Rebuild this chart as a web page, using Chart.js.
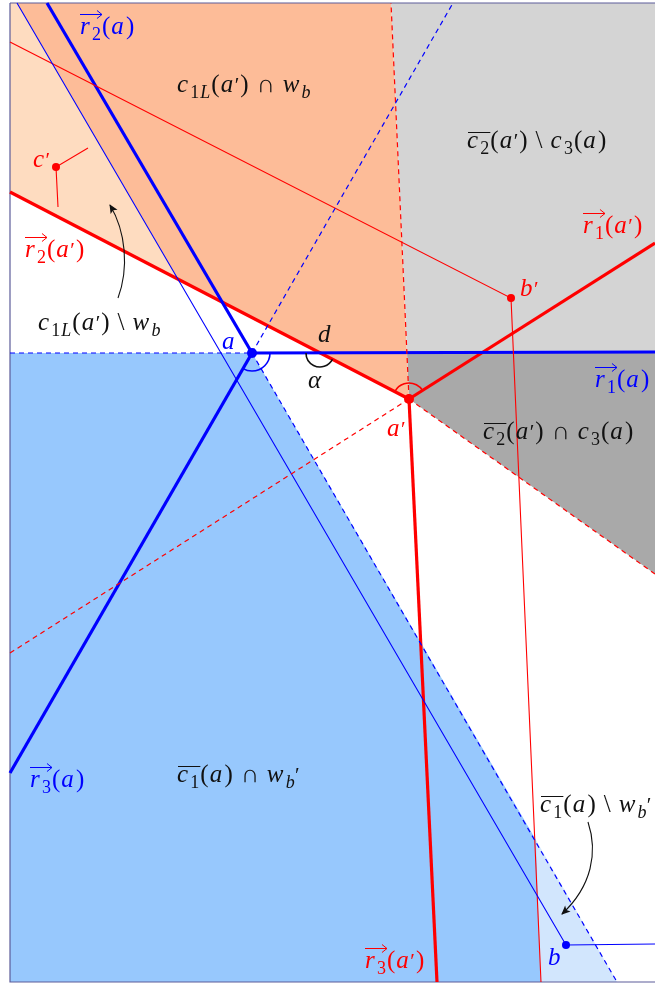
<!DOCTYPE html>
<html>
<head>
<meta charset="utf-8">
<script src="https://cdn.jsdelivr.net/npm/chart.js@4.4.1/dist/chart.umd.min.js"></script>
<style>
html, body { margin: 0; padding: 0; background: #fff; }
#diagram { display: block; }
#fontprobe { position: absolute; left: -999px; top: 0; font: italic 24px 'Liberation Serif'; }
</style>
</head>
<body>
<span id="fontprobe">a (a) <span style="font-style:normal">( )</span></span>
<canvas id="diagram" width="655" height="987"></canvas>
<script>
// points of the figure (x right, y down)
var ptA  = [252, 353];
var ptA2 = [409, 399];
var ptB  = [566, 945];
var ptB2 = [511, 298];
var ptC2 = [56, 167];

// shaded cells
var cellPeach  = [[10,3],[17,3],[178,279],[10,192],[10,3]];
var cellSalmon = [[17,3],[391,3],[409,399],[178,279],[17,3]];
var cellGrey   = [[391,3],[655,3],[655,352],[407,352],[391,3]];
var cellDark   = [[407,352],[655,352],[655,574],[409,399],[407,352]];
var cellBlue   = [[10,353],[252,353],[536,840],[541,982],[10,982],[10,353]];
var cellPale   = [[536,840],[617,982],[541,982],[536,840]];

// rays and segments
var blueThick = [[ptA,[655,352]], [ptA,[47,3]], [ptA,[10,773]]];
var blueDash  = [[[10,353],ptA], [ptA,[453,3]], [ptA,[617,982]]];
var blueThin  = [[[17,3],ptB,[655,944]]];
var redThick  = [[ptA2,[10,192]], [ptA2,[655,243]], [ptA2,[437,982]]];
var redDash   = [[ptA2,[391,3]], [ptA2,[10,653]], [ptA2,[655,574]]];
var redThin   = [[[10,42],ptB2,[541,982]], [[88,148],ptC2,[58,207]]];
var frame     = [[10,3],[660,3],[660,982],[10,982],[10,3]];

// labels: text, x, baseline, colour
var labels = [
  ["<r_2>(a)", 80, 34, "blue"],
  ["c_{1L}(a') ∩ w_b", 177, 92, "#111"],
  ["[c_2](a') \\ c_3(a)", 467, 148, "#111"],
  ["<r_1>(a')", 583, 233, "red"],
  ["c'", 33, 167, "red"],
  ["<r_2>(a')", 25, 257, "red"],
  ["c_{1L}(a') \\ w_b", 38, 330, "#111"],
  ["a", 222, 349, "blue"],
  ["d", 318, 342, "#111"],
  ["α", 308, 388, "#111"],
  ["b'", 520, 296, "red"],
  ["<r_1>(a)", 595, 387, "blue"],
  ["a'", 387, 436, "red"],
  ["[c_2](a') ∩ c_3(a)", 483, 439, "#111"],
  ["<r_3>(a)", 30, 787, "blue"],
  ["[c_1](a) ∩ w_{b'}", 177, 782, "#111"],
  ["[c_1](a) \\ w_{b'}", 540, 812, "#111"],
  ["b", 548, 965, "blue"],
  ["<r_3>(a')", 365, 968, "red"]
];

// angle marks: centre, radius, start deg, end deg, colour
var arcs = [
  [ptA, 18, 0, 120, "blue"],
  [ptA2, 16, -152.6, -32.4, "red"],
  [[320,353], 14, 27.4, 180, "#111"]
];

// curved arrows: start, ctrl1, ctrl2, end
var arrows = [
  [[118,298],[129,268],[126,232],[110,205]],
  [[588,822],[598,852],[592,886],[562,914]]
];

function pts(list) {
  return list.map(function(p) { return {x: p[0], y: p[1]}; });
}

var datasets = [];
function addCell(list, color) {
  datasets.push({ data: pts(list), fill: 'shape', backgroundColor: color,
    borderWidth: 0, borderColor: 'rgba(0,0,0,0)', pointRadius: 0, order: 10 });
}
function addLines(groups, color, width, dash) {
  groups.forEach(function(g) {
    datasets.push({ data: pts(g), fill: false, borderColor: color, borderWidth: width,
      borderDash: dash || [], pointRadius: 0, order: 2 });
  });
}

addCell(cellPeach, '#fedcc0');
addCell(cellSalmon, '#fdbc98');
addCell(cellGrey, '#d4d4d4');
addCell(cellDark, '#a9a9a9');
addCell(cellBlue, '#97c8fd');
addCell(cellPale, '#d2e6fd');

addLines(blueDash, '#0000ff', 1.2, [5, 4]);
addLines(redDash, '#ff0000', 1.2, [5, 4]);
addLines(blueThin, '#0000ff', 1.1);
addLines(redThin, '#ff0000', 1.1);
addLines(blueThick, '#0000ff', 3.2);
addLines(redThick, '#ff0000', 3.2);
addLines([frame], '#5c5c99', 1.2);

datasets.push({ data: pts([ptA, ptA2]), showLine: false, pointRadius: 5, pointBorderWidth: 0,
  pointBackgroundColor: ['#0000ff', '#ff0000'], order: 0 });
datasets.push({ data: pts([ptB, ptB2, ptC2]), showLine: false, pointRadius: 4, pointBorderWidth: 0,
  pointBackgroundColor: ['#0000ff', '#ff0000', '#ff0000'], order: 0 });

// tiny math text: [..] overline, <..> vector arrow, _x or _{..} subscript
function parseMath(s) {
  var toks = [], bar = false, vec = false, i = 0;
  function add(ch, sub) {
    var it = /[a-zA-Zα]/.test(ch);
    if (ch === "'") { ch = '′'; it = false; }
    toks.push({ch: ch, it: it, sub: sub, bar: bar, vec: vec});
  }
  while (i < s.length) {
    var c = s[i];
    if (c === '[') { bar = true; i++; continue; }
    if (c === ']') { bar = false; i++; continue; }
    if (c === '<') { vec = true; i++; continue; }
    if (c === '>') { vec = false; i++; continue; }
    if (c === '_') {
      if (s[i + 1] === '{') {
        var j = s.indexOf('}', i);
        for (var k = i + 2; k < j; k++) add(s[k], true);
        i = j + 1;
      } else { add(s[i + 1], true); i += 2; }
      continue;
    }
    add(c, false); i++;
  }
  return toks;
}

function drawMath(ctx, s, x, y, size, color) {
  var toks = parseMath(s), cx = x, fam = "'Liberation Serif', 'DejaVu Serif', serif";
  var bx = null, vx = null;
  ctx.fillStyle = color; ctx.strokeStyle = color;
  ctx.textAlign = 'left'; ctx.textBaseline = 'alphabetic';
  toks.forEach(function(t) {
    if (t.ch === ' ') { cx += size * 0.28; return; }
    var fs = t.sub ? size * 0.72 : size;
    var dy = t.sub ? size * 0.22 : 0;
    if (t.ch === '′') { fs = size * 0.85; dy = 0; cx -= size * 0.03; }
    ctx.font = (t.it ? 'italic ' : '') + Math.round(fs) + 'px ' + fam;
    var w = ctx.measureText(t.ch).width;
    var x0 = cx;
    ctx.fillText(t.ch, cx, y + dy);
    cx += w + 1;
    if (t.it && !t.sub) cx += size * 0.05;
    if (t.bar) { if (!bx) bx = [x0, cx]; else bx[1] = cx; }
    if (t.vec) { if (!vx) vx = [x0, cx]; else vx[1] = cx; }
  });
  ctx.lineWidth = 1;
  if (bx) {
    ctx.beginPath();
    ctx.moveTo(bx[0] + 1, y - size * 0.62); ctx.lineTo(bx[1], y - size * 0.62);
    ctx.stroke();
  }
  if (vx) {
    var vy = y - size * 0.78, x1 = vx[1];
    ctx.beginPath();
    ctx.moveTo(vx[0], vy); ctx.lineTo(x1, vy);
    ctx.moveTo(x1 - 5, vy - 4); ctx.lineTo(x1, vy); ctx.lineTo(x1 - 5, vy + 4);
    ctx.stroke();
  }
}

var decorations = {
  id: 'decorations',
  afterDatasetsDraw: function(chart) {
    var ctx = chart.ctx, sx = chart.scales.x, sy = chart.scales.y;
    function px(p) { return [sx.getPixelForValue(p[0]), sy.getPixelForValue(p[1])]; }
    ctx.save();
    arcs.forEach(function(a) {
      var c = px(a[0]);
      ctx.beginPath();
      ctx.strokeStyle = a[4]; ctx.lineWidth = 1.6;
      ctx.arc(c[0], c[1], a[1], a[2] * Math.PI / 180, a[3] * Math.PI / 180, false);
      ctx.stroke();
    });
    arrows.forEach(function(a) {
      var p0 = px(a[0]), p1 = px(a[1]), p2 = px(a[2]), p3 = px(a[3]);
      ctx.beginPath();
      ctx.strokeStyle = '#111'; ctx.lineWidth = 1.1;
      ctx.moveTo(p0[0], p0[1]);
      ctx.bezierCurveTo(p1[0], p1[1], p2[0], p2[1], p3[0], p3[1]);
      ctx.stroke();
      var ang = Math.atan2(p3[1] - p2[1], p3[0] - p2[0]);
      ctx.save();
      ctx.translate(p3[0], p3[1]); ctx.rotate(ang);
      ctx.beginPath();
      ctx.fillStyle = '#111';
      ctx.moveTo(1, 0); ctx.lineTo(-8, -4); ctx.lineTo(-6, 0); ctx.lineTo(-8, 4); ctx.closePath();
      ctx.fill();
      ctx.restore();
    });
    labels.forEach(function(l) {
      var p = px([l[1], l[2]]);
      drawMath(ctx, l[0], p[0], p[1], 25, l[3]);
    });
    ctx.restore();
  }
};

function build() {
  new Chart(document.getElementById('diagram'), {
    type: 'line',
    data: { datasets: datasets },
    options: {
      responsive: false,
      animation: false,
      layout: { padding: 0, autoPadding: false },
      elements: { line: { tension: 0 } },
      plugins: { legend: { display: false }, tooltip: { enabled: false } },
      scales: {
        x: { type: 'linear', min: 0, max: 655, display: false },
        y: { type: 'linear', min: 0, max: 987, reverse: true, display: false }
      }
    },
    plugins: [decorations]
  });
}

Promise.all([
  document.fonts.load("italic 24px 'Liberation Serif'"),
  document.fonts.load("24px 'Liberation Serif'")
]).then(build, build);
</script>
</body>
</html>
